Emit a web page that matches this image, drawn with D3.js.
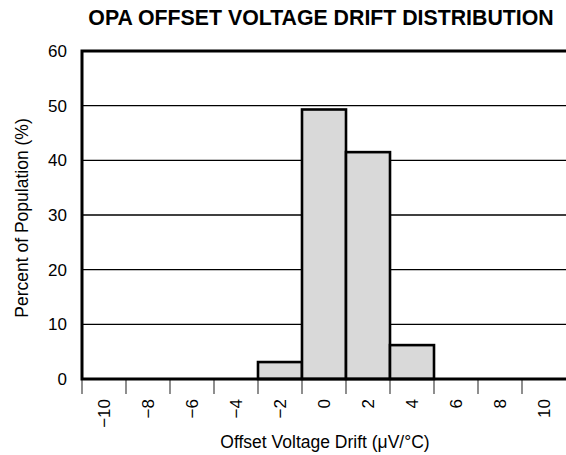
<!DOCTYPE html>
<html>
<head>
<meta charset="utf-8">
<script src="https://cdn.jsdelivr.net/npm/d3@7"></script>
<style>
  body { margin: 0; background: #fff; }
  text { font-family: "Liberation Sans", Arial, sans-serif; fill: #000; }
</style>
</head>
<body>
<div id="chart"></div>
<script>
// Bin centres (uV/C) and percent of population in each bin
var bins     = [-10, -8, -6, -4, -2, 0, 2, 4, 6, 8, 10];
var percents = [0, 0, 0, 0, 3.1, 49.3, 41.5, 6.2, 0, 0, 0];
var yTicks   = [0, 10, 20, 30, 40, 50, 60];

var width  = 566,
    height = 455,
    margin = {top: 51, right: 0, bottom: 76, left: 82};

var svg = d3.select("#chart")
  .append("svg")
    .attr("width", width)
    .attr("height", height);

// Scales
var x = d3.scaleBand()
  .domain(bins)
  .range([margin.left, width - margin.right])
  .padding(0);

var y = d3.scaleLinear()
  .domain([0, 60])
  .range([height - margin.bottom, margin.top]);

// Title
svg.append("text")
  .attr("x", 321)
  .attr("y", 25)
  .attr("text-anchor", "middle")
  .style("font-weight", "bold")
  .style("font-size", "21.3px")
  .text("OPA OFFSET VOLTAGE DRIFT DISTRIBUTION");

// Horizontal grid lines
svg.append("g")
  .selectAll("line")
  .data(yTicks.slice(1, -1))
  .enter()
  .append("line")
    .attr("x1", margin.left)
    .attr("x2", width)
    .attr("y1", function(d) { return y(d); })
    .attr("y2", function(d) { return y(d); })
    .style("stroke", "#000")
    .style("stroke-width", 1.3);

// Bars
svg.append("g")
  .selectAll("rect")
  .data(bins.map(function(b, i) { return {bin: b, value: percents[i]}; })
            .filter(function(d) { return d.value > 0; }))
  .enter()
  .append("rect")
    .attr("x", function(d) { return x(d.bin); })
    .attr("y", function(d) { return y(d.value); })
    .attr("width", x.bandwidth())
    .attr("height", function(d) { return y(0) - y(d.value); })
    .style("fill", "#d9d9d9")
    .style("stroke", "#000")
    .style("stroke-width", 2.6);

// Y axis labels
svg.append("g")
  .selectAll("text")
  .data(yTicks)
  .enter()
  .append("text")
    .attr("x", margin.left - 15)
    .attr("y", function(d) { return y(d); })
    .attr("dy", "0.35em")
    .attr("text-anchor", "end")
    .style("font-size", "17px")
    .text(function(d) { return d; });

// X ticks at bin edges
var edges = bins.map(function(b) { return x(b); });
svg.append("g")
  .selectAll("line")
  .data(edges)
  .enter()
  .append("line")
    .attr("x1", function(d) { return d; })
    .attr("x2", function(d) { return d; })
    .attr("y1", y(0))
    .attr("y2", y(0) + 15)
    .style("stroke", "#444")
    .style("stroke-width", 1.2);

// X tick labels, rotated, centred in each bin
svg.append("g")
  .selectAll("text")
  .data(bins)
  .enter()
  .append("text")
    .attr("transform", function(d) {
      return "translate(" + (x(d) + x.bandwidth() / 2) + "," + (y(0) + 20) + ") rotate(-90)";
    })
    .attr("dy", "0.35em")
    .attr("text-anchor", "end")
    .style("font-size", "17px")
    .text(function(d) { return d3.format("d")(d); });

// Frame: left, top, bottom
svg.append("path")
  .attr("d", "M" + width + "," + y(60) + "H" + margin.left + "V" + y(0) + "H" + width)
  .style("fill", "none")
  .style("stroke", "#000")
  .style("stroke-width", 3);

// Axis titles
svg.append("text")
  .attr("x", 325)
  .attr("y", 448)
  .attr("text-anchor", "middle")
  .style("font-size", "17.5px")
  .text("Offset Voltage Drift (\u03bcV/\u00b0C)");

svg.append("text")
  .attr("transform", "translate(28,218) rotate(-90)")
  .attr("text-anchor", "middle")
  .style("font-size", "17.5px")
  .text("Percent of Population (%)");
</script>
</body>
</html>
